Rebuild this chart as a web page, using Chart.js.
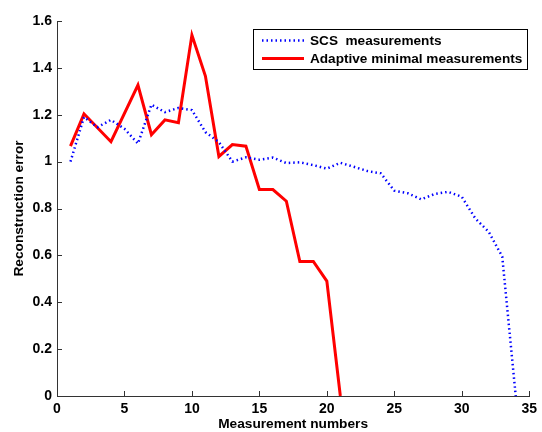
<!DOCTYPE html>
<html>
<head>
<meta charset="utf-8">
<script src="https://cdn.jsdelivr.net/npm/chart.js@4.4.1/dist/chart.umd.min.js"></script>
<style>
	body { margin: 0; background: #fff; }
	#wrap { width: 542px; height: 432px; }
</style>
</head>
<body>
<div id="wrap"><canvas id="ErrChartCanvas" width="542" height="432"></canvas></div>
<script>
// values
var scsX = [1, 2, 3, 4, 5, 6, 7, 8, 9, 10, 11, 12, 13, 14, 15, 16, 17, 18, 19, 20, 21, 22, 23, 24, 25, 26, 27, 28, 29, 30, 31, 32, 33, 34];
var scsY = [1.0, 1.19, 1.147, 1.178, 1.14, 1.077, 1.243, 1.211, 1.229, 1.22, 1.126, 1.083, 1.0, 1.018, 1.008, 1.017, 0.994, 0.997, 0.985, 0.97, 0.995, 0.978, 0.96, 0.95, 0.876, 0.865, 0.839, 0.862, 0.871, 0.85, 0.758, 0.70, 0.595, 0.0];
var adaptX = [1, 2, 4, 6, 7, 8, 9, 10, 11, 12, 13, 14, 15, 16, 17, 18, 19, 20, 21];
var adaptY = [1.066, 1.204, 1.085, 1.327, 1.115, 1.178, 1.166, 1.54, 1.365, 1.022, 1.073, 1.066, 0.881, 0.881, 0.831, 0.574, 0.574, 0.49, 0.0];
var seriesNames = ["SCS  measurements", "Adaptive minimal measurements"];
var xTickLabels = ["0", "5", "10", "15", "20", "25", "30", "35"];
var yTickLabels = ["0", "0.2", "0.4", "0.6", "0.8", "1", "1.2", "1.4", "1.6"];

function toPoints(xs, ys) {
	var pts = [];
	for(var i = 0; i < xs.length; i++) {
		pts.push({x: xs[i], y: ys[i]});
	}
	return pts;
}

var FONT = "'Liberation Sans', Arial, Helvetica, sans-serif";

// ticks pointing inward, like matlab
var innerTicks = {
	id: 'innerTicks',
	afterDraw: function(chart) {
		var ctx = chart.ctx;
		var xs = chart.scales.x, ys = chart.scales.y;
		var area = chart.chartArea;
		ctx.save();
		ctx.strokeStyle = '#333';
		ctx.lineWidth = 1;
		ctx.beginPath();
		xs.ticks.forEach(function(t) {
			var px = Math.round(xs.getPixelForValue(t.value)) + 0.5;
			ctx.moveTo(px, area.bottom);
			ctx.lineTo(px, area.bottom - 5);
		});
		ys.ticks.forEach(function(t) {
			var py = Math.round(ys.getPixelForValue(t.value)) + 0.5;
			ctx.moveTo(area.left, py);
			ctx.lineTo(area.left + 5, py);
		});
		ctx.stroke();
		ctx.restore();
	}
};

// boxed legend in the upper right corner of the plot
var boxLegend = {
	id: 'boxLegend',
	afterDraw: function(chart) {
		var ctx = chart.ctx;
		var left = 253, top = 29.5, w = 274, h = 40;
		ctx.save();
		ctx.fillStyle = '#fff';
		ctx.fillRect(left, top, w, h);
		ctx.strokeStyle = '#000';
		ctx.lineWidth = 1;
		ctx.strokeRect(left + 0.5, top, w, h);
		ctx.font = 'bold 13.6px ' + FONT;
		ctx.textBaseline = 'middle';
		ctx.fillStyle = '#000';
		var rows = [40.5, 58.5];
		chart.data.datasets.forEach(function(ds, i) {
			ctx.beginPath();
			ctx.strokeStyle = ds.borderColor;
			ctx.lineWidth = ds.borderWidth;
			ctx.setLineDash(ds.borderDash || []);
			ctx.moveTo(262, rows[i]);
			ctx.lineTo(304, rows[i]);
			ctx.stroke();
			ctx.setLineDash([]);
			ctx.fillText(ds.label, 310, rows[i] + 0.5);
		});
		ctx.restore();
	}
};

var ctx = document.getElementById("ErrChartCanvas").getContext('2d');
window.errChart = new Chart(ctx, {
	type: 'line',
	data: {
		datasets: [
			{
				label: seriesNames[0],
				data: toPoints(scsX, scsY),
				borderColor: '#0000ff',
				borderWidth: 2.5,
				borderDash: [1.5, 3],
				pointRadius: 0,
				fill: false,
				tension: 0
			},
			{
				label: seriesNames[1],
				data: toPoints(adaptX, adaptY),
				borderColor: '#ff0000',
				borderWidth: 3,
				pointRadius: 0,
				fill: false,
				tension: 0
			}
		]
	},
	options: {
		responsive: false,
		animation: false,
		layout: { padding: { left: 0, right: 8, top: 21, bottom: 0 } },
		plugins: {
			legend: { display: false },
			tooltip: { enabled: false }
		},
		scales: {
			x: {
				type: 'linear',
				min: 0,
				max: 35,
				afterFit: function(s) { s.height = 36; },
				border: { display: true, color: '#333', width: 1 },
				grid: { display: true, drawOnChartArea: false, drawTicks: false, color: '#333' },
				ticks: {
					stepSize: 5,
					padding: 5,
					color: '#000',
					font: { family: FONT, size: 14, weight: 'bold' },
					maxRotation: 0,
					callback: function(v) { return xTickLabels[Math.round(v / 5)]; }
				},
				title: {
					display: true,
					text: 'Measurement numbers',
					color: '#000',
					font: { family: FONT, size: 13.7, weight: 'bold' },
					padding: { top: 0, bottom: 0 }
				}
			},
			y: {
				type: 'linear',
				min: 0,
				max: 1.6,
				afterFit: function(s) { s.width = 57; },
				border: { display: true, color: '#333', width: 1 },
				grid: { display: true, drawOnChartArea: false, drawTicks: false, color: '#333' },
				ticks: {
					stepSize: 0.2,
					padding: 5,
					color: '#000',
					font: { family: FONT, size: 14, weight: 'bold' },
					callback: function(v) { return yTickLabels[Math.round(v / 0.2)]; }
				},
				title: {
					display: true,
					text: 'Reconstruction error',
					color: '#000',
					font: { family: FONT, size: 13.7, weight: 'bold' },
					padding: { top: 11, bottom: 0 }
				}
			}
		}
	},
	plugins: [innerTicks, boxLegend]
});
</script>
</body>
</html>
